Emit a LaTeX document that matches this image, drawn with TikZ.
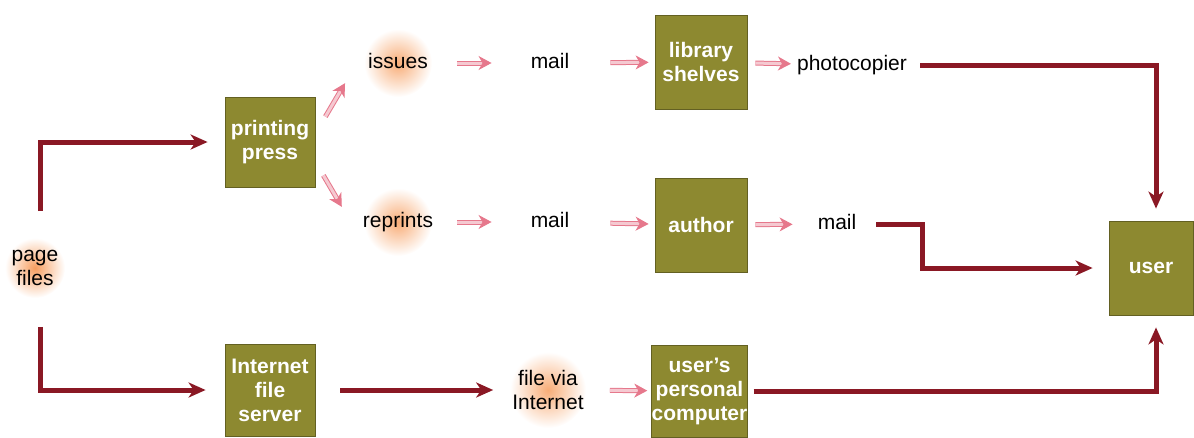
\documentclass[tikz,border=0pt]{standalone}
\usepackage{fontspec}
\setmainfont{Liberation Sans}
\usetikzlibrary{arrows.meta,backgrounds}

\definecolor{olivebox}{RGB}{141,137,48}
\definecolor{darkred}{RGB}{138,24,36}
\definecolor{pinkarr}{RGB}{230,120,140}
\definecolor{glow}{RGB}{247,158,95}

\begin{document}
\begin{tikzpicture}[x=1pt, y=-1pt,
  font=\fontsize{21}{24}\selectfont,
  box/.style={draw=olivebox!70!black, line width=0.8pt, fill=olivebox, text=white,
    font=\fontsize{21}{24}\selectfont\bfseries, align=center, inner sep=0pt,
    minimum width=92pt, minimum height=94pt},
  word/.style={inner sep=0pt, text height=15pt, text depth=5pt},
  stack/.style={align=center, inner sep=0pt},
  bigarrow/.style={draw=darkred, line width=5pt, -{Stealth[length=17pt,width=15pt,inset=5pt]}},
  smallarrow/.style={draw=pinkarr, line width=1pt, double=pinkarr!40, double distance=3pt,
    -{Stealth[length=13pt,width=14pt,inset=4pt]}},
  gap/.style 2 args={shorten <=#1, shorten >=#2}]
\useasboundingbox (0,0) rectangle (1194,437);

% boxes
\node[box, minimum width=90pt, minimum height=90pt] (press) at (270,142) {printing\\press};
\node[box, minimum width=90pt, minimum height=92pt] (server) at (270,390) {Internet\\file\\server};
\node[box] (shelves) at (701,62) {library\\shelves};
\node[box] (author) at (701,225) {author};
\node[box, minimum width=95pt, minimum height=92pt] (pc) at (699.5,391) {user's\\personal\\computer};
\node[box, minimum width=84pt] (user) at (1151,268) {user};

% plain labels
\node[stack] (files) at (35,268) {page\\files};
\node[word] (issues) at (398,63) {issues};
\node[word] (reprints) at (398,222) {reprints};
\node[word] (mail1) at (550,63) {mail};
\node[word] (mail2) at (550,222) {mail};
\node[stack] (via) at (548,390) {file via\\Internet};
\node[word] (photo) at (852,65) {photocopier};
\node[word] (mail3) at (837,224) {mail};

% orange glow behind some labels
\begin{scope}[on background layer]
\shade[inner color=glow, outer color=white] (files) circle (30);
\shade[inner color=glow!85, outer color=white] (issues) circle (34);
\shade[inner color=glow!85, outer color=white] (reprints) circle (34);
\shade[inner color=glow!85, outer color=white] (via) circle (38);
\end{scope}

% main routes
\draw[bigarrow, gap={39pt}{17pt}] ([xshift=5pt]files.north) |- (press.west);
\draw[bigarrow, gap={41pt}{19pt}] ([xshift=5pt]files.south) |- (server.west);
\draw[bigarrow, gap={25pt}{19pt}] (server.east) -- (via.west);
\draw[bigarrow, gap={13pt}{12pt}] (photo.east) -| ([xshift=5pt]user.north);
\coordinate (bend) at (922,224);
\draw[bigarrow, gap={20pt}{16pt}] (mail3.east) -- (bend) |- (user.west);
\draw[bigarrow, gap={6pt}{12pt}] (pc.east) -| ([xshift=5pt]user.south);

% small steps
\draw[smallarrow] ([shift={(10,20)}]press.north east) -- ([shift={(-23,10)}]issues.south west);
\draw[smallarrow] ([shift={(8,-12)}]press.south east) -- ([shift={(-21,-5)}]reprints.north west);
\draw[smallarrow, gap={29pt}{39pt}] (issues) -- (mail1);
\draw[smallarrow, gap={24pt}{39pt}] (reprints) -- (mail2);
\draw[smallarrow, gap={41pt}{6pt}] (mail1) -- (shelves);
\draw[smallarrow, gap={41pt}{6pt}] (mail2) -- (author);
\draw[smallarrow, gap={8pt}{6pt}] (shelves) -- (photo);
\draw[smallarrow, gap={8pt}{25pt}] (author) -- (mail3);
\draw[smallarrow, gap={26pt}{4pt}] (via) -- (pc);
\end{tikzpicture}
\end{document}
